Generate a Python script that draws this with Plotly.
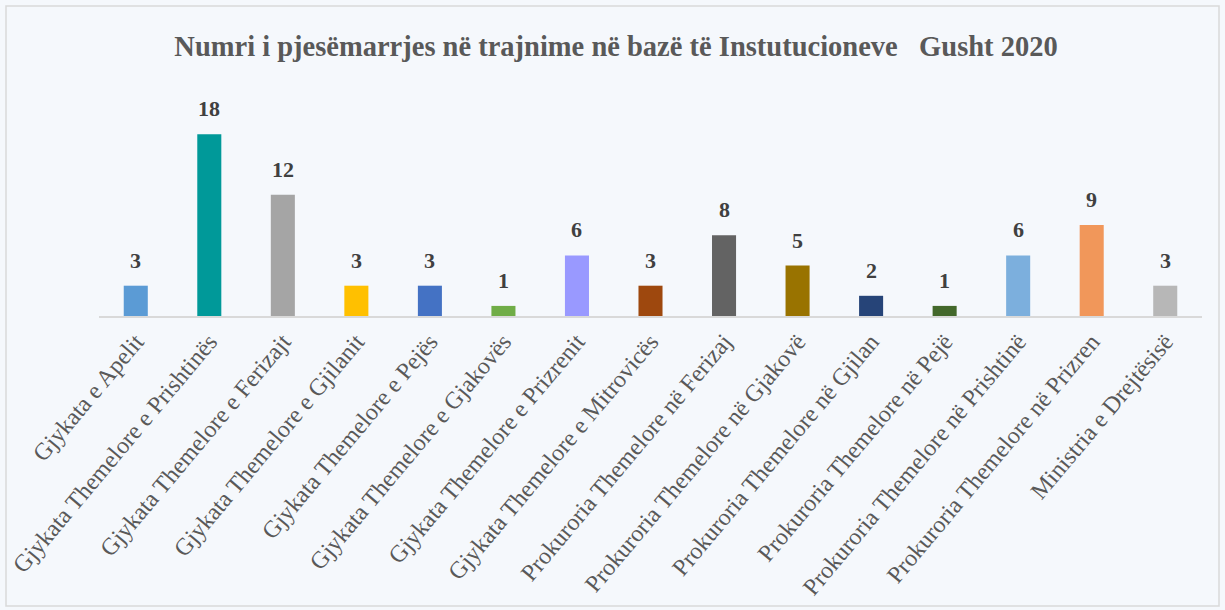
import plotly.graph_objects as go

categories = [
    "Gjykata e Apelit",
    "Gjykata Themelore e Prishtinës",
    "Gjykata Themelore e Ferizajt",
    "Gjykata Themelore e Gjilanit",
    "Gjykata Themelore e Pejës",
    "Gjykata Themelore e Gjakovës",
    "Gjykata Themelore e Prizrenit",
    "Gjykata Themelore e Mitrovicës",
    "Prokuroria Themelore në Ferizaj",
    "Prokuroria Themelore në Gjakovë",
    "Prokuroria Themelore në Gjilan",
    "Prokuroria Themelore në Pejë",
    "Prokuroria Themelore në Prishtinë",
    "Prokuroria Themelore në Prizren",
    "Ministria e Drejtësisë",
]
values = [3, 18, 12, 3, 3, 1, 6, 3, 8, 5, 2, 1, 6, 9, 3]
colors = ["#5B9BD5", "#009999", "#A5A5A5", "#FFC000", "#4472C4", "#70AD47",
          "#9999FF", "#9E480E", "#636363", "#997300", "#264478", "#43682B",
          "#7CAFDD", "#F1975A", "#B7B7B7"]
title = "Numri i pjesëmarrjes në trajnime në bazë të Instutucioneve\u00a0\u00a0\u00a0Gusht 2020"

BG = "#F5F8FC"
W, H = 1225, 610
L, R, T, B = 99, 23, 114, 294

fig = go.Figure()
fig.add_trace(go.Bar(
    x=categories, y=values,
    marker=dict(color=colors, line=dict(width=0)),
    showlegend=False, hoverinfo="x+y",
))
for c, v in zip(categories, values):
    fig.add_annotation(x=c, y=v, text="<b>%d</b>" % v, showarrow=False,
                       yanchor="bottom", yshift=11,
                       font=dict(family="Liberation Serif", size=22, color="#404040"))

pw = W - L - R
ph = H - T - B
fig.add_shape(type="rect", xref="paper", yref="paper",
              x0=(6 - L) / pw, x1=(1219 - L) / pw,
              y0=(T + ph - 606) / ph, y1=(T + ph - 6) / ph,
              line=dict(color="#D9D9D9", width=1.5), fillcolor="rgba(0,0,0,0)",
              layer="below")

fig.update_layout(
    width=W, height=H,
    margin=dict(l=L, r=R, t=T, b=B),
    paper_bgcolor=BG, plot_bgcolor=BG,
    bargap=0.673,
    title=dict(text="<b>" + title + "</b>", x=616 / W, xanchor="center",
               y=1 - 46 / H, yanchor="middle",
               font=dict(family="Liberation Serif", size=28.5, color="#595959")),
    xaxis=dict(tickangle=-50, showline=True, linecolor="#D9D9D9", linewidth=2,
               ticks="", tickfont=dict(family="Liberation Serif", size=24, color="#595959"),
               showgrid=False, automargin=False),
    yaxis=dict(range=[0, 20], visible=False, showgrid=False, zeroline=False),
)
fig.write_html("out.html", config={"displayModeBar": False},
               post_script="document.body.style.margin='0';document.body.style.overflow='hidden';")
